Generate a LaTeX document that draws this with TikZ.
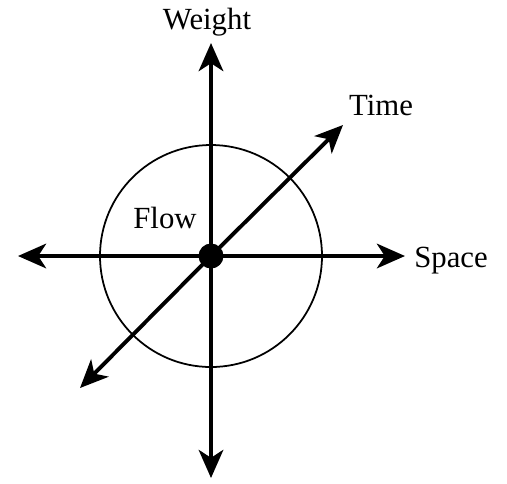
\documentclass[tikz,border=0pt]{standalone}
\usepackage{fontspec}
\setmainfont{Liberation Serif}
\usetikzlibrary{arrows.meta, positioning}

\begin{document}
\begin{tikzpicture}[
    axis/.style={-{Stealth[length=16pt, width=14pt, inset=4.5pt]}, line width=2.2pt},
    hub/.style={circle, fill=black, inner sep=0pt, minimum size=0.5cm},
    lbl/.style={font=\fontsize{17.5}{21}\selectfont}
  ]
    \useasboundingbox (-4.22,-4.54) rectangle (5.92,5.12);

    %% Centre and the ring
    \node[hub] (o) at (0,0) {};
    \draw[line width=1pt] (o.center) circle (2.22);

    %% Axis ends
    \coordinate (wt) at (0,4.26);
    \coordinate (wb) at (0,-4.44);
    \coordinate (sl) at (-3.86,0);
    \coordinate (sr) at (3.88,0);
    \coordinate (tt) at (2.64,2.62);
    \coordinate (tb) at (-2.62,-2.64);

    %% Axes
    \draw[axis] (o.center) -- (wt);
    \draw[axis] (o.center) -- (wb);
    \draw[axis] (o.center) -- (sl);
    \draw[axis] (o.center) -- (sr);
    \draw[axis] (o.center) -- (tt);
    \draw[axis] (o.center) -- (tb);

    %% Labels
    \node[lbl] (weight) at (-0.08,4.68) {Weight};
    \node[lbl] (time) at (3.40,3.02) {Time};
    \node[lbl] (space) at (4.80,-0.1) {Space};
    \node[lbl] (flow) at (-0.92,0.76) {Flow};
  \end{tikzpicture}
\end{document}
